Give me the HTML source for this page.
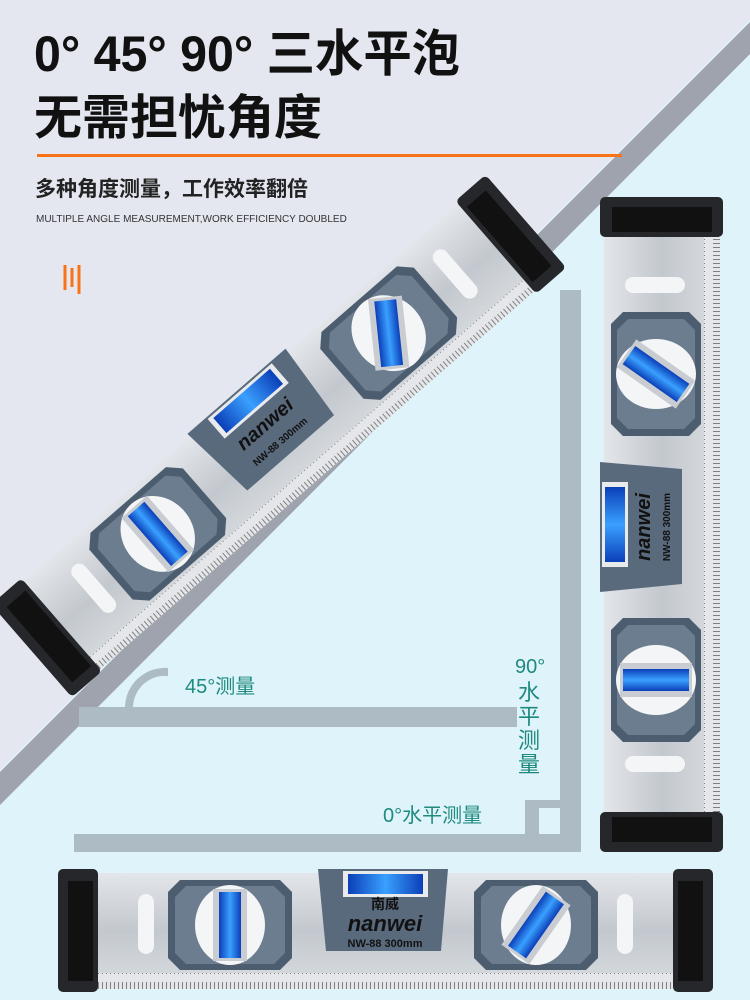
<!DOCTYPE html>
<html><head><meta charset="utf-8"><style>
html,body{margin:0;padding:0}
body{width:750px;height:1000px;overflow:hidden;position:relative;font-family:"Liberation Sans","Noto Sans CJK SC",sans-serif}
svg{position:absolute;left:0;top:0}
</style></head><body>
<svg width="750" height="1000" viewBox="0 0 750 1000" xmlns="http://www.w3.org/2000/svg">
<defs>
<linearGradient id="silver" x1="0" y1="0" x2="0" y2="1">
<stop offset="0" stop-color="#e3e6ea"/><stop offset="0.5" stop-color="#c3c8ce"/><stop offset="1" stop-color="#d9dde1"/></linearGradient>
<linearGradient id="blue" x1="0" y1="0" x2="1" y2="0">
<stop offset="0" stop-color="#0b3fb8"/><stop offset="0.5" stop-color="#3aa0ff"/><stop offset="1" stop-color="#0b3fb8"/></linearGradient>
<pattern id="ticks" width="4" height="15" patternUnits="userSpaceOnUse">
<rect width="4" height="15" fill="#e4e6e9"/><line x1="0.5" y1="8" x2="0.5" y2="15" stroke="#555" stroke-width="0.7"/></pattern>
<g id="lvl">
<rect x="28" y="4" width="600" height="116" fill="url(#silver)"/>
<rect x="40" y="104" width="576" height="16" fill="url(#ticks)"/>
<rect x="0" y="0" width="40" height="123" rx="5" fill="#25272b"/>
<rect x="10" y="12" width="25" height="100" fill="#111"/>
<rect x="615" y="0" width="40" height="123" rx="5" fill="#25272b"/>
<rect x="620" y="12" width="25" height="100" fill="#111"/>
<rect x="80" y="25" width="16" height="60" rx="8" fill="#f4f5f6"/>
<rect x="559" y="25" width="16" height="60" rx="8" fill="#f4f5f6"/>
<g transform="translate(172,56)">
<polygon points="-50,-45 50,-45 62,-33 62,33 50,45 -50,45 -62,33 -62,-33" fill="#4d5d70"/>
<polygon points="-44,-39 44,-39 55,-28 55,28 44,39 -44,39 -55,28 -55,-28" fill="#6c7d90"/>
<ellipse cx="0" cy="0" rx="35" ry="40" fill="#f3f5f7"/>
<rect x="-17" y="-36" width="34" height="72" fill="#c9ccd0"/>
<rect x="-11" y="-33" width="22" height="66" fill="url(#blue)"/>
</g>
<g transform="translate(478,56)">
<polygon points="-50,-45 50,-45 62,-33 62,33 50,45 -50,45 -62,33 -62,-33" fill="#4d5d70"/>
<polygon points="-44,-39 44,-39 55,-28 55,28 44,39 -44,39 -55,28 -55,-28" fill="#6c7d90"/>
<ellipse cx="0" cy="0" rx="35" ry="40" fill="#f3f5f7"/>
<g transform="rotate(35)"><rect x="-17" y="-36" width="34" height="72" fill="#c9ccd0"/>
<rect x="-11" y="-33" width="22" height="66" fill="url(#blue)"/></g>
</g>
<polygon points="260,0 390,0 383,82 268,82" fill="#5a6a7d"/>
<rect x="285" y="2" width="85" height="26" fill="#e8eaec"/>
<rect x="290" y="5" width="75" height="20" fill="url(#blue)"/>
</g>
</defs>

<rect width="750" height="1000" fill="#dff4fa"/>
<polygon points="0,0 750,0 750,20 0,770" fill="#e4e7ef"/>
<polygon points="0,772 752,20 752,52 0,805" fill="#9fa3ad"/>

<g fill="#adbbc4">
<rect x="79" y="707" width="438" height="20"/>
<path d="M125 707 A40 40 0 0 1 168 668 L168 676 A32 32 0 0 0 133 707 Z"/>
<rect x="560" y="290" width="21" height="562"/>
<rect x="74" y="834" width="507" height="18"/>
<rect x="525" y="800" width="35" height="8"/>
<rect x="525" y="800" width="14" height="35"/>
</g>
<g fill="#1e8a7f" font-size="20">
<text x="185" y="693">45°测量</text>
<text x="515" y="673">90°</text>
<text x="518" y="700" font-size="22">水</text>
<text x="518" y="724" font-size="22">平</text>
<text x="518" y="748" font-size="22">测</text>
<text x="518" y="772" font-size="22">量</text>
<text x="383" y="822">0°水平测量</text>
</g>

<text x="34" y="71" font-size="50" font-weight="bold" fill="#111" textLength="426" lengthAdjust="spacingAndGlyphs">0° 45° 90° 三水平泡</text>
<text x="34" y="134" font-size="48" font-weight="bold" fill="#111">无需担忧角度</text>
<rect x="37" y="154" width="585" height="3" fill="#f97316"/>
<text x="35" y="196" font-size="21" font-weight="bold" fill="#222">多种角度测量，工作效率翻倍</text>
<text x="36" y="222" font-size="10" fill="#333">MULTIPLE ANGLE MEASUREMENT,WORK EFFICIENCY DOUBLED</text>
<path d="M65 265 V290 M72 268 V287 M79 265 V294" stroke="#f97316" stroke-width="3" fill="none"/>

<g transform="translate(278,436) rotate(-41) translate(-327,-61)">
<use href="#lvl"/>
<text x="325" y="50" font-size="20" font-style="italic" font-weight="bold" fill="#111" text-anchor="middle">nanwei</text>
<text x="325" y="70" font-size="10" font-weight="bold" fill="#111" text-anchor="middle">NW-88 300mm</text>
</g>
<g transform="translate(600,852) rotate(-90)">
<use href="#lvl"/>
<text x="325" y="50" font-size="20" font-style="italic" font-weight="bold" fill="#111" text-anchor="middle">nanwei</text>
<text x="325" y="70" font-size="10" font-weight="bold" fill="#111" text-anchor="middle">NW-88 300mm</text>
</g>
<g transform="translate(58,869)">
<use href="#lvl"/>
<text x="327" y="40" font-size="14" font-weight="bold" fill="#111" text-anchor="middle">南威</text>
<text x="327" y="62" font-size="22" font-style="italic" font-weight="bold" fill="#111" text-anchor="middle">nanwei</text>
<text x="327" y="78" font-size="11" font-weight="bold" fill="#111" text-anchor="middle">NW-88 300mm</text>
</g>
</svg>
</body></html>
